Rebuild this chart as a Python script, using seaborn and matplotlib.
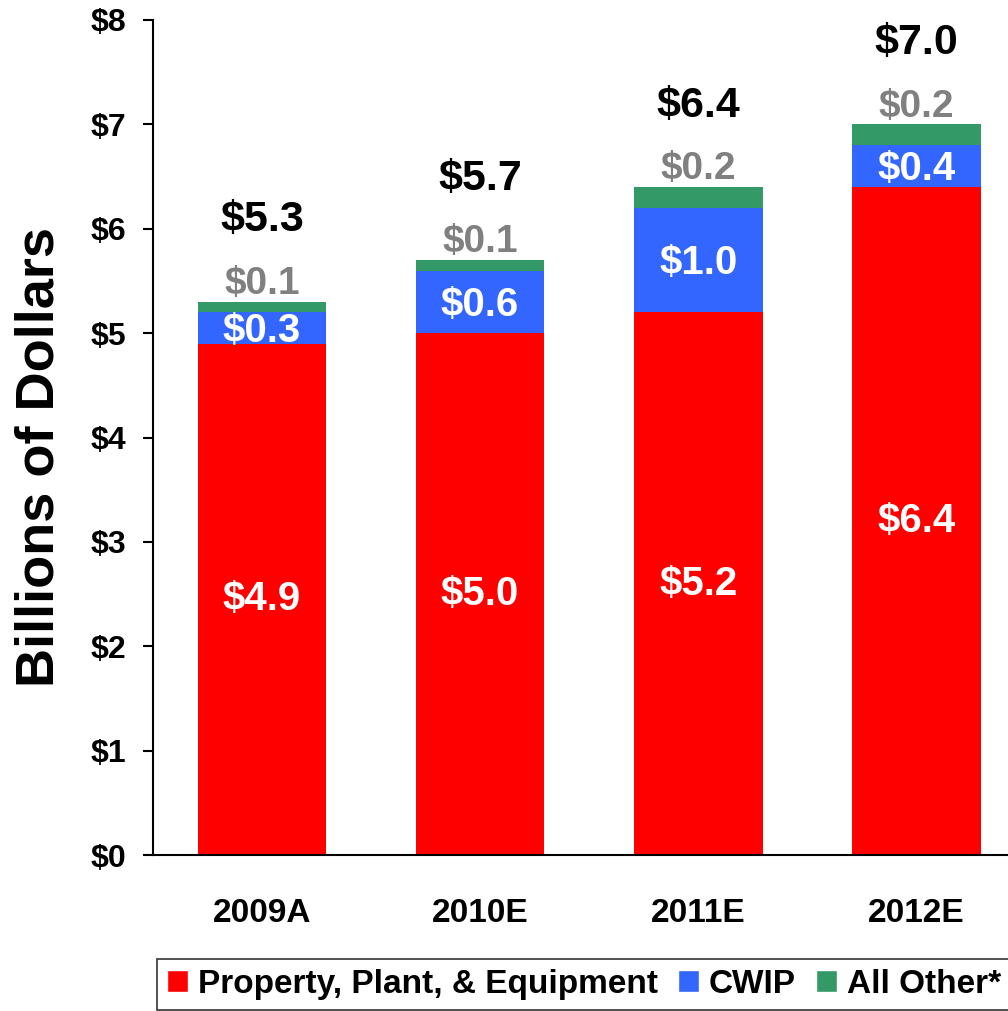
import matplotlib
matplotlib.use("Agg")
import matplotlib.pyplot as plt
import seaborn as sns
import pandas as pd
from matplotlib.patches import Patch

# data
years = ["2009A", "2010E", "2011E", "2012E"]
ppe = [4.9, 5.0, 5.2, 6.4]
cwip = [0.3, 0.6, 1.0, 0.4]
other = [0.1, 0.1, 0.2, 0.2]
totals = [5.3, 5.7, 6.4, 7.0]
yticks = [0, 1, 2, 3, 4, 5, 6, 7, 8]

red = "#FF0000"
blue = "#3366FF"
green = "#339966"
gray = "#808080"

sns.set_style("white")
plt.rcParams["font.family"] = ["Liberation Sans", "DejaVu Sans"]
plt.rcParams["font.weight"] = "bold"
plt.rcParams["text.color"] = "black"
plt.rcParams["xtick.color"] = "black"
plt.rcParams["ytick.color"] = "black"

df = pd.DataFrame({"year": years, "ppe": ppe, "cwip": cwip, "other": other})
df["lvl2"] = df["ppe"] + df["cwip"]
df["lvl3"] = df["lvl2"] + df["other"]

fig = plt.figure(figsize=(10.08, 10.11), dpi=100)
ax = fig.add_axes([153 / 1008, 1 - 855 / 1011, 1 - 153 / 1008 + 0.002, (855 - 20) / 1011])

# stacked by overlaying cumulative heights
for col, c in [("lvl3", green), ("lvl2", blue), ("ppe", red)]:
    sns.barplot(data=df, x="year", y=col, color=c, saturation=1, width=0.59,
                edgecolor=c, linewidth=0, ax=ax)

for i in range(len(years)):
    ax.text(i, ppe[i] / 2, f"${ppe[i]:.1f}", ha="center", va="center",
            color="white", fontsize=29, fontweight="bold")
    ax.text(i, ppe[i] + cwip[i] / 2 - 0.03, f"${cwip[i]:.1f}", ha="center", va="center",
            color="white", fontsize=29, fontweight="bold")
    ax.text(i, totals[i] + 0.17, f"${other[i]:.1f}", ha="center", va="center",
            color=gray, fontsize=28, fontweight="bold")
    ax.text(i, totals[i] + 0.78, f"${totals[i]:.1f}", ha="center", va="center",
            color="black", fontsize=31, fontweight="bold")

ax.set_ylim(0, 8)
ax.set_xlim(-0.5, 3.43)
ax.set_yticks(yticks)
ax.set_yticklabels([f"${v}" for v in yticks], fontsize=23, fontweight="bold")
ax.set_xticks(range(len(years)))
ax.set_xticklabels(years, fontsize=24, fontweight="bold")
ax.set_xticks([-0.5, 0.5, 1.5, 2.5], minor=True)
ax.tick_params(axis="x", which="major", length=0, pad=31)
ax.tick_params(axis="x", which="minor", length=7, width=1.5, direction="out", color="black")
ax.tick_params(axis="y", length=7, width=1.5, direction="out", color="black", pad=12, left=True)
ax.set_xlabel("")
ax.set_ylabel("")

sns.despine(ax=ax, top=True, right=True)
for side in ["left", "bottom"]:
    ax.spines[side].set_color("black")
    ax.spines[side].set_linewidth(1.5)

fig.text(40 / 1008, 1 - 457 / 1011, "Billions of Dollars", rotation=90,
         ha="center", va="center", fontsize=39, fontweight="bold")

handles = [Patch(facecolor=red, label="Property, Plant, & Equipment"),
           Patch(facecolor=blue, label="CWIP"),
           Patch(facecolor=green, label="All Other*")]
leg = fig.legend(handles=handles, loc="upper left", bbox_to_anchor=(157 / 1008, 1 - 959 / 1011),
                 ncol=3, frameon=True, fancybox=False, edgecolor="black", borderaxespad=0,
                 handlelength=0.63, handleheight=0.63, handletextpad=0.3, columnspacing=0.6,
                 borderpad=0.3, prop={"size": 24, "weight": "bold"})
leg.get_frame().set_linewidth(1.2)

fig.savefig("out.png", dpi=100)
